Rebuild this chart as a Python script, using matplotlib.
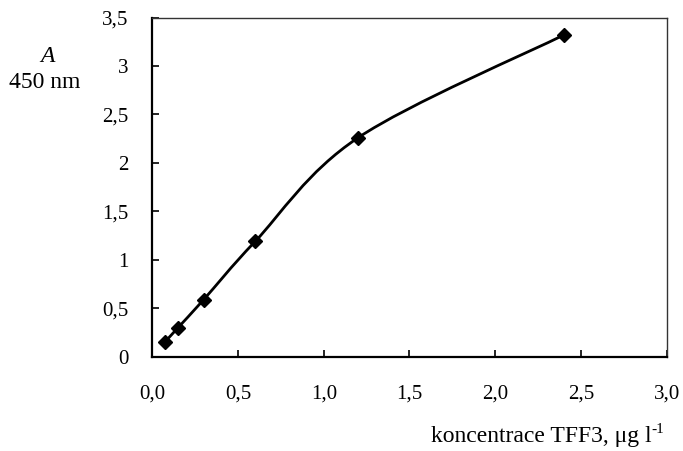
import numpy as np
import matplotlib
matplotlib.use("Agg")
import matplotlib.pyplot as plt
from matplotlib.path import Path
from matplotlib.patches import PathPatch
from matplotlib.ticker import FuncFormatter

# koncentrace TFF3 (ug/l) a absorbance pri 450 nm
konc = [0.075, 0.15, 0.3, 0.6, 1.2, 2.4]
absorbance = [0.155, 0.30, 0.59, 1.19, 2.26, 3.32]

x_ticks = [0.0, 0.5, 1.0, 1.5, 2.0, 2.5, 3.0]
y_ticks = [0, 0.5, 1, 1.5, 2, 2.5, 3, 3.5]

plt.rcParams["font.family"] = ["Liberation Serif", "DejaVu Serif"]


def smooth_path(xs, ys):
    """vyhlazena cara jako v Excelu (Catmull-Rom -> Bezier)"""
    p = np.column_stack([xs, ys])
    n = len(p)
    verts = [p[0]]
    codes = [Path.MOVETO]
    for i in range(n - 1):
        p0 = p[i - 1] if i > 0 else p[i]
        p3 = p[i + 2] if i + 2 < n else p[i + 1]
        c1 = p[i] + (p[i + 1] - p0) / 6
        c2 = p[i + 1] - (p3 - p[i]) / 6
        verts += [c1, c2, p[i + 1]]
        codes += [Path.CURVE4] * 3
    return Path(verts, codes)


fig = plt.figure(figsize=(6.83, 4.51), dpi=100)
ax = fig.add_axes([0.223, 0.209, 0.753, 0.752])

ax.add_patch(PathPatch(smooth_path(konc, absorbance), fill=False,
                       lw=2.0, color="black", capstyle="round", zorder=2))
ax.plot(konc, absorbance, ls="none", marker="D", ms=7, color="black", zorder=3)

ax.set_xlim(0, 3.0)
ax.set_ylim(0, 3.5)
ax.set_xticks(x_ticks)
ax.set_yticks(y_ticks)
ax.xaxis.set_major_formatter(FuncFormatter(lambda v, _: f"{v:.1f}".replace(".", ",")))
ax.yaxis.set_major_formatter(FuncFormatter(lambda v, _: f"{v:g}".replace(".", ",")))
ax.tick_params(axis="x", direction="in", length=5, width=1.2, labelsize=15, pad=20)
ax.tick_params(axis="y", direction="in", length=5, width=1.2, labelsize=15, pad=17)

for side in ["left", "bottom"]:
    ax.spines[side].set_linewidth(1.6)
    ax.spines[side].set_color("black")
for side in ["top", "right"]:
    ax.spines[side].set_linewidth(1.0)
    ax.spines[side].set_color("#333333")

fig.text(47 / 683, 1 - 57 / 451, "A", style="italic", fontsize=17, ha="center", va="center")
fig.text(45 / 683, 1 - 82 / 451, "450 nm", fontsize=17, ha="center", va="center")

# popisek osy x s horním indexem
sup = fig.text(664 / 683, 1 - 433 / 451, "-1", fontsize=11, ha="right", va="baseline")
fig.canvas.draw()
sup_w = sup.get_window_extent().width
fig.text((664 - sup_w) / 683, 1 - 442 / 451, "koncentrace TFF3, μg l",
         fontsize=17, ha="right", va="baseline")

fig.savefig("out.png", dpi=100)
